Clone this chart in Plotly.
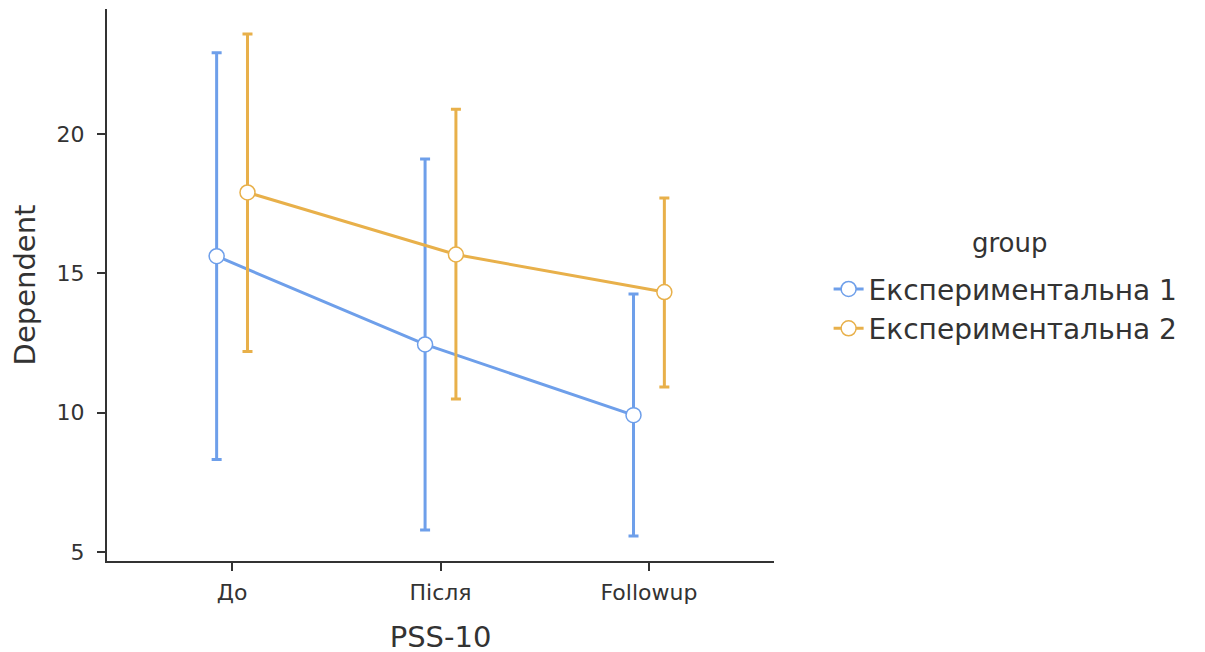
import plotly.graph_objects as go

categories = ["До", "Після", "Followup"]
groups = ["Експериментальна 1", "Експериментальна 2"]
means_g1 = [15.62, 12.45, 9.91]
upper_g1 = [22.93, 19.11, 14.26]
lower_g1 = [8.32, 5.78, 5.57]
means_g2 = [17.91, 15.68, 14.33]
upper_g2 = [23.60, 20.90, 17.71]
lower_g2 = [12.20, 10.49, 10.92]
colors = ["#6E9FEA", "#E8B04A"]
y_ticks = [5, 10, 15, 20]

FONT = "DejaVu Sans, Liberation Sans, Arial, sans-serif"
TXT = "#333333"
dodge = 0.074
fig = go.Figure()
series = [(means_g1, upper_g1, lower_g1), (means_g2, upper_g2, lower_g2)]
for i, (m, u, l) in enumerate(series):
    xs = [k + 1 + (-dodge if i == 0 else dodge) for k in range(len(categories))]
    fig.add_trace(go.Scatter(
        x=xs, y=m, mode="lines+markers", name=groups[i],
        line=dict(color=colors[i], width=3),
        marker=dict(size=15, color="white", line=dict(color=colors[i], width=1.5)),
        error_y=dict(type="data", symmetric=False,
                     array=[uu - mm for uu, mm in zip(u, m)],
                     arrayminus=[mm - ll for ll, mm in zip(l, m)],
                     color=colors[i], thickness=3, width=5),
    ))

# legend title drawn as annotation for spacing control
fig.add_annotation(text="group", xref="paper", yref="paper", x=1.354, y=0.576,
                   showarrow=False, xanchor="center", yanchor="middle",
                   font=dict(size=26, color=TXT, family=FONT))

# note: the page has an 8px body margin, so margins are offset by 8px
fig.update_layout(
    width=1205, height=652,
    margin=dict(l=99, r=439, t=1, b=99),
    plot_bgcolor="white", paper_bgcolor="white",
    font=dict(family=FONT, color=TXT),
    showlegend=True,
    legend=dict(
        xref="container", yref="container", x=0.681, y=0.607,
        xanchor="left", yanchor="top",
        font=dict(size=28, color=TXT),
        itemwidth=30, tracegroupgap=0,
    ),
    xaxis=dict(
        range=[0.4, 3.6], tickmode="array", tickvals=[1, 2, 3], ticktext=categories,
        showline=True, linecolor=TXT, linewidth=2, ticks="outside",
        ticklen=8, tickwidth=2, tickcolor=TXT, showgrid=False, zeroline=False,
        tickfont=dict(size=22, color=TXT), ticklabelstandoff=3,
        title=dict(text="PSS-10", font=dict(size=29, color=TXT), standoff=22),
    ),
    yaxis=dict(
        range=[4.67, 24.5], tickmode="array", tickvals=y_ticks,
        showline=True, linecolor=TXT, linewidth=2, ticks="outside",
        ticklen=8, tickwidth=2, tickcolor=TXT, showgrid=False, zeroline=False,
        tickfont=dict(size=22, color=TXT), ticklabelstandoff=8,
        title=dict(text="Dependent", font=dict(size=29, color=TXT), standoff=16),
    ),
)
fig.write_html("out.html")
